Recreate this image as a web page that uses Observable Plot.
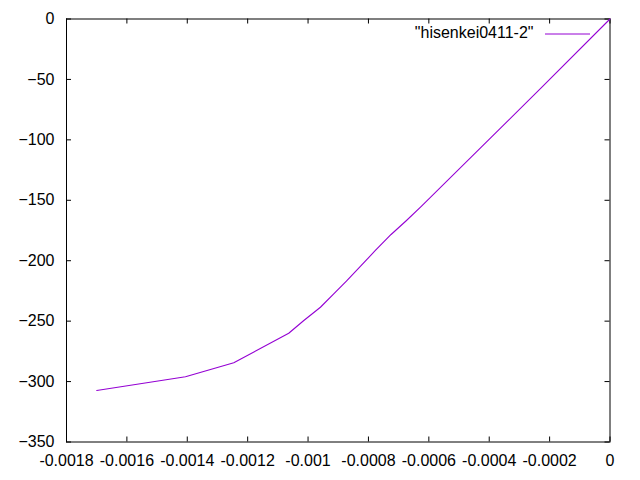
<!DOCTYPE html>
<html>
<head>
<meta charset="utf-8">
<script src="https://cdn.jsdelivr.net/npm/d3@7"></script>
<script src="https://cdn.jsdelivr.net/npm/@observablehq/plot@0.6"></script>
<style>
  html, body { margin: 0; padding: 0; background: white; }
  #chart { width: 640px; height: 480px; }
</style>
</head>
<body>
<div id="chart"></div>
<script>
// Data
const strain = [-0.00170, -0.001406, -0.001246, -0.001064, -0.001014, -0.000959, -0.000915, -0.000873, -0.000826, -0.000777, -0.000725, -0.000674, -0.000625, -0.000223, 0];
const stress = [-307.4, -296.0, -284.5, -260.0, -249.5, -238.5, -227.4, -216.9, -204.5, -191.5, -178.3, -166.7, -155.1, -55.8, 0];
const xTicks = [-0.0018, -0.0016, -0.0014, -0.0012, -0.001, -0.0008, -0.0006, -0.0004, -0.0002, 0];
const yTicks = [-350, -300, -250, -200, -150, -100, -50, 0];
const seriesName = '"hisenkei0411-2"';

const data = strain.map((x, i) => ({x, y: stress[i]}));

const W = 640, H = 480;
const mL = 66, mR = 30.5, mT = 18.5, mB = 38.5;
const frameW = W - mL - mR, frameH = H - mT - mB;
const tick = 5;
const color = "#9400d3";

const fmtX = d => d === 0 ? "0" : String(+d.toFixed(4));

const chart = Plot.plot({
  width: W, height: H,
  marginLeft: mL, marginRight: mR, marginTop: mT, marginBottom: mB,
  style: {fontFamily: "'Liberation Sans', Arial, sans-serif", fontSize: "16px", background: "white", color: "black"},
  x: {domain: [-0.0018, 0]},
  y: {domain: [-350, 0]},
  marks: [
    Plot.axisX(xTicks, {tickSize: 0, tickPadding: 13, tickFormat: fmtX, label: null, fontSize: 16}),
    Plot.axisY(yTicks, {tickSize: 0, tickPadding: 12, label: null, fontSize: 16}),
    Plot.ruleX(xTicks, {x: d => d, insetTop: frameH - tick, stroke: "black"}),
    Plot.ruleX(xTicks, {x: d => d, insetBottom: frameH - tick, stroke: "black"}),
    Plot.ruleY(yTicks, {y: d => d, insetRight: frameW - tick, stroke: "black"}),
    Plot.ruleY(yTicks, {y: d => d, insetLeft: frameW - tick, stroke: "black"}),
    Plot.frame({stroke: "black"}),
    Plot.line(data, {x: "x", y: "y", stroke: color, strokeWidth: 1.1}),
    Plot.text([seriesName], {text: d => d, frameAnchor: "top-right", dx: -76.5, dy: 14, textAnchor: "end", lineAnchor: "middle", fontSize: 16, fill: "black"}),
    Plot.ruleY([0], {y: d => d, dy: 15, insetLeft: 545 - mL, insetRight: W - mR - 590, stroke: color})
  ]
});
document.getElementById("chart").appendChild(chart);
</script>
</body>
</html>
